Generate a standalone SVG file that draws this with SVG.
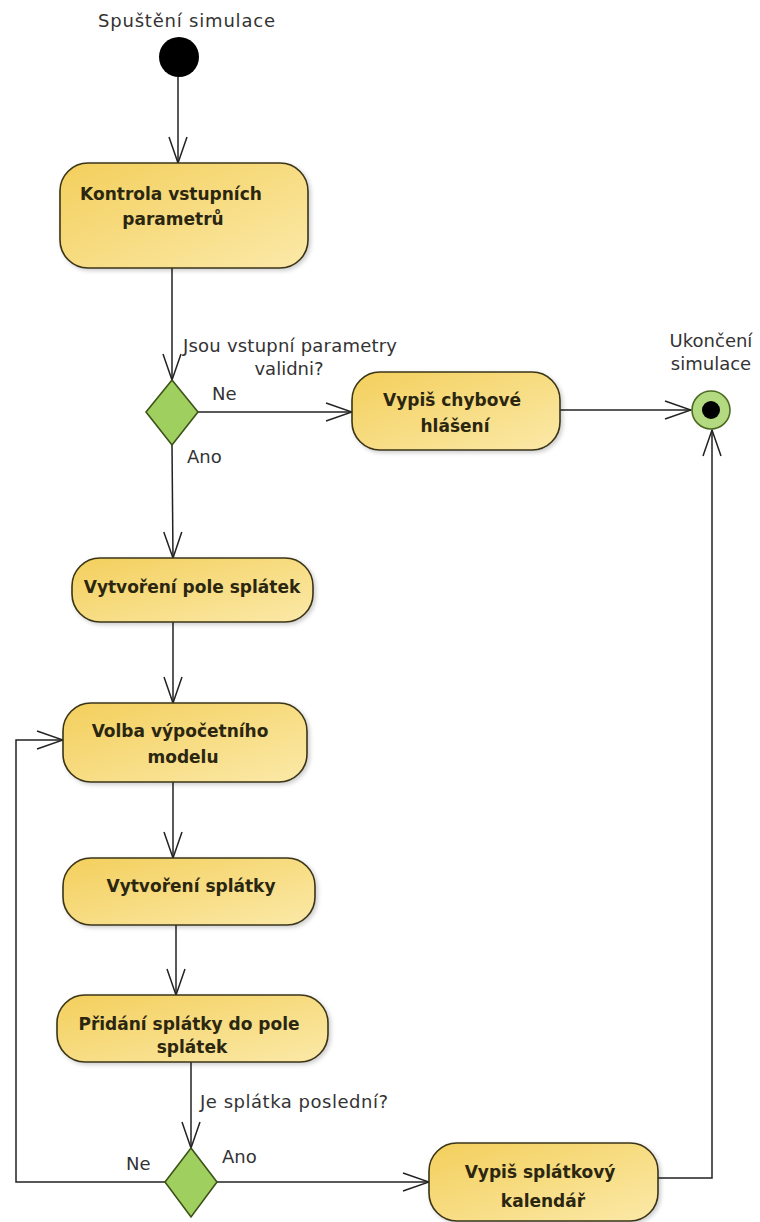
<svg xmlns="http://www.w3.org/2000/svg" width="760" height="1222" viewBox="0 0 760 1222">
<style>
.act{stroke:#3a3418;stroke-width:1.6;fill:url(#yg);filter:url(#sh)}
.bt{font-family:"DejaVu Sans",Verdana,sans-serif;font-weight:bold;font-size:17px;fill:#2b2610;text-anchor:middle}
.lb{font-family:"DejaVu Sans",Verdana,sans-serif;font-size:18px;fill:#333}
.dec{fill:#9fcf5f;stroke:#3c5218;stroke-width:1.6}
.cn{fill:none;stroke:#222;stroke-width:1.5}
</style>
<defs>
<linearGradient id="yg" x1="0" y1="0" x2="1" y2="1">
<stop offset="0" stop-color="#f3cf5c"/>
<stop offset="1" stop-color="#fbe9a8"/>
</linearGradient>
<filter id="sh" x="-10%" y="-10%" width="130%" height="140%">
<feDropShadow dx="2" dy="2" stdDeviation="2" flood-color="#000" flood-opacity="0.2"/>
</filter>
<marker id="ar" markerUnits="userSpaceOnUse" markerWidth="30" markerHeight="22" viewBox="-28 -11 30 22" refX="0" refY="0" orient="auto">
<path d="M-26,-9 L0,0 L-26,9" fill="none" stroke="#222" stroke-width="1.5"/>
</marker>
</defs>
<rect width="760" height="1222" fill="#fff"/>

<g id="connectors" class="cn">
<line x1="178" y1="77" x2="178" y2="163" marker-end="url(#ar)"/>
<line x1="172" y1="268" x2="172" y2="380" marker-end="url(#ar)"/>
<line x1="198" y1="412" x2="352" y2="412" marker-end="url(#ar)"/>
<line x1="560" y1="410" x2="691" y2="410" marker-end="url(#ar)"/>
<line x1="172" y1="445" x2="173" y2="558" marker-end="url(#ar)"/>
<line x1="173" y1="622" x2="173" y2="703" marker-end="url(#ar)"/>
<line x1="173" y1="782" x2="173" y2="858" marker-end="url(#ar)"/>
<line x1="176" y1="925" x2="176" y2="995" marker-end="url(#ar)"/>
<line x1="191" y1="1062" x2="191" y2="1148" marker-end="url(#ar)"/>
<line x1="217" y1="1182" x2="429" y2="1182" marker-end="url(#ar)"/>
<polyline points="165,1182 16,1182 16,740 63,740" marker-end="url(#ar)"/>
<polyline points="658,1178 712,1178 712,430" marker-end="url(#ar)"/>
</g>

<g id="start">
<circle cx="179" cy="57" r="20" fill="#000"/>
<text class="lb" x="98" y="27" textLength="177">Spuštění simulace</text>
</g>

<g id="kontrola">
<rect class="act" x="60" y="163" width="248" height="105" rx="28"/>
<text class="bt" x="171" y="200">Kontrola vstupních</text>
<text class="bt" x="173" y="225">parametrů</text>
</g>

<g id="decision1">
<polygon class="dec" points="172,380 198,412 172,445 146,412"/>
<text class="lb" x="183" y="352" textLength="214">Jsou vstupní parametry</text>
<text class="lb" x="289" y="375" text-anchor="middle">validni?</text>
<text class="lb" x="212" y="400">Ne</text>
<text class="lb" x="187" y="463">Ano</text>
</g>

<g id="chyba">
<rect class="act" x="352" y="372" width="208" height="78" rx="28"/>
<text class="bt" x="452" y="406">Vypiš chybové</text>
<text class="bt" x="455" y="432">hlášení</text>
</g>

<g id="end">
<circle cx="711" cy="410" r="19" fill="#b3da80" stroke="#4d6b22" stroke-width="1.6"/>
<circle cx="711" cy="410" r="9" fill="#000"/>
<text class="lb" x="711" y="347" text-anchor="middle">Ukončení</text>
<text class="lb" x="711" y="370" text-anchor="middle">simulace</text>
</g>

<g id="pole">
<rect class="act" x="72" y="558" width="241" height="64" rx="28"/>
<text class="bt" x="192" y="593">Vytvoření pole splátek</text>
</g>

<g id="volba">
<rect class="act" x="63" y="703" width="244" height="79" rx="28"/>
<text class="bt" x="180" y="737">Volba výpočetního</text>
<text class="bt" x="183" y="763">modelu</text>
</g>

<g id="splatka">
<rect class="act" x="63" y="858" width="252" height="67" rx="28"/>
<text class="bt" x="191" y="892">Vytvoření splátky</text>
</g>

<g id="pridani">
<rect class="act" x="57" y="995" width="271" height="67" rx="28"/>
<text class="bt" x="189" y="1030">Přidání splátky do pole</text>
<text class="bt" x="192" y="1053">splátek</text>
</g>

<g id="decision2">
<polygon class="dec" points="191,1148 217,1182 191,1217 165,1182"/>
<text class="lb" x="200" y="1108" textLength="188">Je splátka poslední?</text>
<text class="lb" x="126" y="1170">Ne</text>
<text class="lb" x="222" y="1163">Ano</text>
</g>

<g id="kalendar">
<rect class="act" x="429" y="1143" width="229" height="78" rx="28"/>
<text class="bt" x="540" y="1178">Vypiš splátkový</text>
<text class="bt" x="543" y="1207">kalendář</text>
</g>
</svg>
